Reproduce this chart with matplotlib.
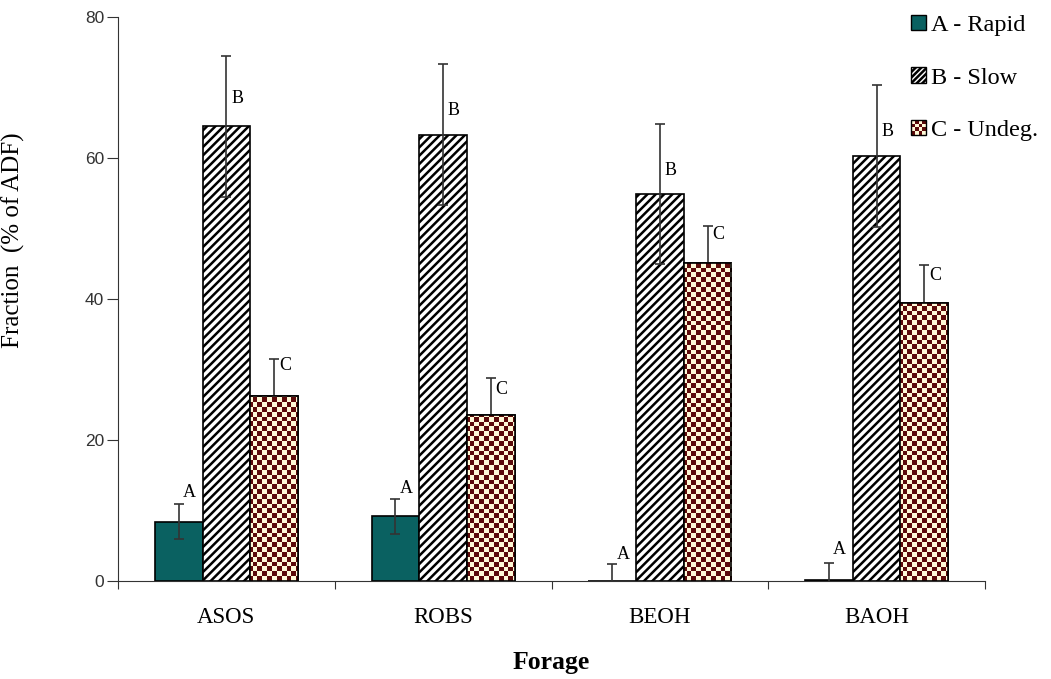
import matplotlib
matplotlib.use('Agg')
import matplotlib.pyplot as plt
import numpy as np
from matplotlib.colors import ListedColormap
from matplotlib.patches import Patch, Rectangle
from matplotlib.legend_handler import HandlerBase

# Данни
forages = ['ASOS', 'ROBS', 'BEOH', 'BAOH']
rapid = [8.4, 9.2, 0.0, 0.2]
rapid_err = [2.5, 2.5, 2.4, 2.4]
slow = [64.5, 63.3, 54.9, 60.3]
slow_err = [10.0, 10.0, 9.9, 10.1]
undeg = [26.3, 23.5, 45.1, 39.5]
undeg_err = [5.2, 5.3, 5.2, 5.3]
letters = ['A', 'B', 'C']
letter_y = [[12.6, 68.5, 30.6],
            [13.1, 66.7, 27.2],
            [3.7, 58.2, 49.1],
            [4.5, 63.8, 43.4]]

teal = '#0a6161'
brown = '#5c0a0a'
cream = '#fff9d6'
navy = '#1a1a40'

plt.rcParams['hatch.linewidth'] = 1.8
plt.rcParams['hatch.color'] = navy

fig = plt.figure(figsize=(10.51, 6.79), dpi=100)
ax = fig.add_axes([0.1123, 0.1443, 0.8249, 0.8307])

x = np.arange(len(forages))
w = 0.22
ekw = dict(ecolor='#333333', elinewidth=1.2, capsize=3.5, capthick=1.2)

ax.bar(x - w, rapid, w, color=teal, edgecolor='black', linewidth=1.2,
       yerr=rapid_err, error_kw=ekw, zorder=2)
ax.bar(x, slow, w, color='white', edgecolor='black', linewidth=1.2,
       hatch='////', yerr=slow_err, error_kw=ekw, zorder=2)
cbars = ax.bar(x + w, undeg, w, color=cream, edgecolor='black', linewidth=1.2,
               yerr=undeg_err, error_kw=ekw, zorder=2)

ax.set_xlim(-0.5, 3.5)
ax.set_ylim(0, 80)

# шахматна шарка върху колоните C
cell_px = 4.8
ncols = int(867 / cell_px)
nrows = int(564 / cell_px)
board = (np.add.outer(np.arange(nrows), np.arange(ncols)) % 2).astype(float)
cmap = ListedColormap([cream, brown])
for b in cbars:
    im = ax.imshow(board, extent=(-0.5, 3.5, 0, 80), cmap=cmap,
                   interpolation='nearest', aspect='auto', zorder=2.1)
    im.set_clip_path(b)
    r = Rectangle(b.get_xy(), b.get_width(), b.get_height(), fill=False,
                  edgecolor='black', linewidth=1.2, zorder=2.2)
    ax.add_patch(r)
ax.set_xlim(-0.5, 3.5)
ax.set_ylim(0, 80)

# букви над колоните
for i in range(len(forages)):
    for j, off in enumerate([-w, 0, w]):
        ax.text(x[i] + off + 0.05, letter_y[i][j], letters[j],
                ha='center', va='center', fontsize=13,
                family='Liberation Serif', zorder=4)

# оси
for s in ['top', 'right']:
    ax.spines[s].set_visible(False)
ax.spines['left'].set_color('#333333')
ax.spines['bottom'].set_color('#333333')
ax.set_xticks(np.arange(-0.5, 4.0, 1.0))
ax.set_xticklabels([])
ax.set_xticks(x, minor=True)
ax.set_xticklabels(forages, minor=True, fontsize=16.5, family='Liberation Serif')
ax.tick_params(axis='x', which='major', length=6, direction='out', color='#333333')
ax.tick_params(axis='x', which='minor', length=0, pad=19)
ax.set_yticks([0, 20, 40, 60, 80])
ax.tick_params(axis='y', length=8, direction='out', color='#333333',
               labelsize=12.5, labelcolor='#333333', pad=2)
for t in ax.get_yticklabels():
    t.set_family('Liberation Sans')

ax.set_ylabel('Fraction  (% of ADF)', fontsize=18, family='Liberation Serif')
ax.yaxis.set_label_coords(-0.107, 0.605)
ax.set_xlabel('Forage', fontsize=18.5, family='Liberation Serif', fontweight='bold')
ax.xaxis.set_label_coords(0.4994, -0.144)
ax.xaxis.label.set_va('center')


class CheckerHandler(HandlerBase):
    def create_artists(self, legend, orig_handle, xdescent, ydescent,
                       width, height, fontsize, trans):
        n = 4
        arts = []
        for r in range(n):
            for c in range(n):
                col = brown if (r + c) % 2 == 0 else cream
                arts.append(Rectangle((-xdescent + c * width / n, -ydescent + r * height / n),
                                      width / n, height / n, facecolor=col,
                                      edgecolor='none', transform=trans))
        arts.append(Rectangle((-xdescent, -ydescent), width, height, fill=False,
                              edgecolor='black', linewidth=1.0, transform=trans))
        return arts


class CheckerKey:
    pass


handles = [Patch(facecolor=teal, edgecolor='black'),
           Patch(facecolor='white', edgecolor='black', hatch='//////'),
           CheckerKey()]
labels = ['A - Rapid', 'B - Slow', 'C - Undeg.']
fig.legend(handles, labels, loc='upper left', bbox_to_anchor=(0.867, 0.978),
           frameon=False, prop={'family': 'Liberation Serif', 'size': 17.5},
           handlelength=0.6, handleheight=0.6, handletextpad=0.2,
           labelspacing=1.28, borderpad=0, borderaxespad=0,
           handler_map={CheckerKey: CheckerHandler()})

fig.savefig('out.png', dpi=100)
